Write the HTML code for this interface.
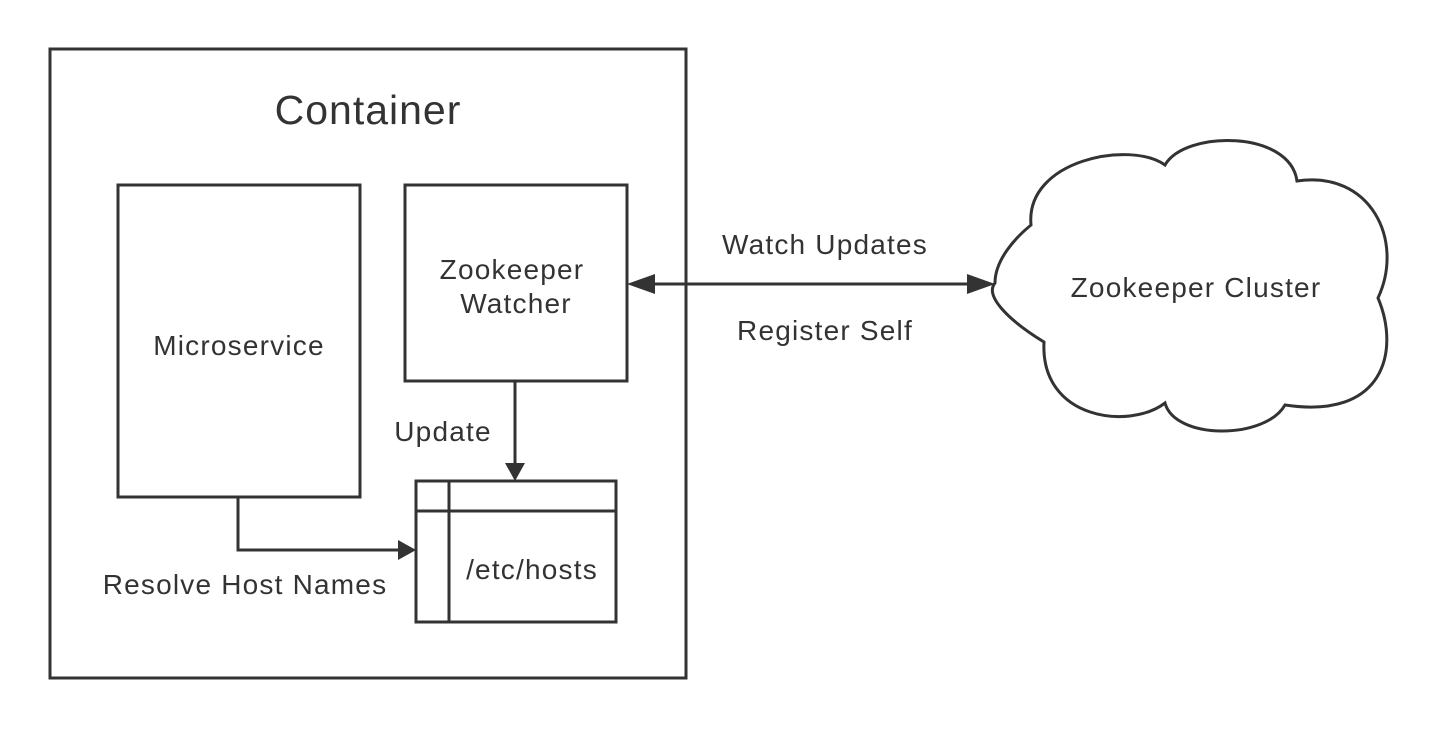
<!DOCTYPE html>
<html><head><meta charset="utf-8"><style>html,body{margin:0;padding:0;background:#fff}</style></head>
<body>
<svg width="1448" height="730" xmlns="http://www.w3.org/2000/svg" font-family="Liberation Sans, sans-serif" fill="#333">
<g stroke="#333" stroke-width="3" fill="none">
<rect x="50" y="49" width="636" height="629"/>
<rect x="118" y="185" width="242" height="312"/>
<rect x="405" y="185" width="222" height="196"/>
<rect x="416" y="481" width="200" height="141"/>
<line x1="416" y1="511" x2="616" y2="511"/>
<line x1="449" y1="481" x2="449" y2="622"/>
<path d="M1031,225 C1025,160 1130,140 1165,165 C1185,130 1290,130 1297,181 C1370,170 1405,240 1378,298 C1400,350 1385,420 1285,405 C1265,440 1175,440 1165,403 C1130,430 1040,420 1044,342 C1005,318 985,295 995,283 C995,260 1015,238 1031,225 Z"/>
</g>
<g stroke="#333" stroke-width="3" fill="none">
<line x1="515" y1="381" x2="515" y2="466"/>
<polyline points="238,497 238,550 401,550"/>
<line x1="642" y1="284" x2="980" y2="284"/>
</g>
<g fill="#333">
<path d="M505,463 L525,463 L515,481 Z"/>
<path d="M398,540 L416,550 L398,560 Z"/>
<path d="M627,284 L655,274 L655,294 Z"/>
<path d="M995,284 L967,274 L967,294 Z"/>
</g>
<g font-size="28" text-anchor="middle" letter-spacing="1.2">
<text x="368" y="124" font-size="41" letter-spacing="1">Container</text>
<text x="239" y="355">Microservice</text>
<text x="512" y="279">Zookeeper</text>
<text x="516" y="313">Watcher</text>
<text x="443" y="441">Update</text>
<text x="532" y="579">/etc/hosts</text>
<text x="245" y="594">Resolve Host Names</text>
<text x="825" y="254">Watch Updates</text>
<text x="825" y="340">Register Self</text>
<text x="1196" y="297">Zookeeper Cluster</text>
</g>
</svg>
</body></html>
